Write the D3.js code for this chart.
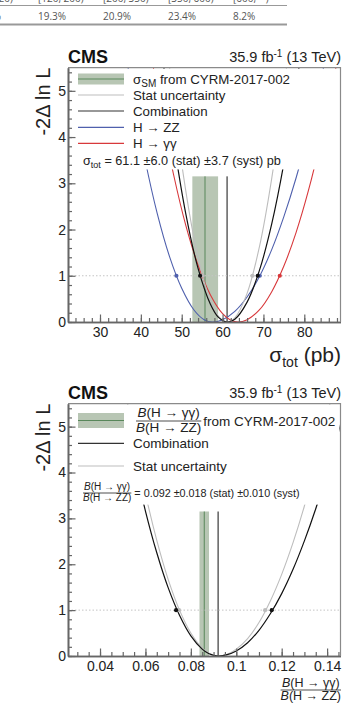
<!DOCTYPE html>
<html>
<head>
<meta charset="utf-8">
<script src="https://cdn.jsdelivr.net/npm/d3@7"></script>
<style>
  body { margin: 0; background: #fff; }
  svg { display: block; font-family: "Liberation Sans", Arial, sans-serif; }
</style>
</head>
<body>
<div id="chart"></div>
<script>
// strip of the table that sits above the figure on the page
const tableHeaders = ["[60, 120)", "[120, 200)", "[200, 350)", "[350, 600)", "[600, ∞)"]
const tableValues = ["14.7%", "19.3%", "20.9%", "23.4%", "8.2%"]

// shared y ticks (-2 delta ln L)
const yMajorTicks = [0, 1, 2, 3, 4, 5]
const yMinorTicks = d3.range(0, 5.5, 0.2)

// ---- top panel: sigma_tot (pb) ----
const sigmaXTicks = [30, 40, 50, 60, 70, 80]
const sigmaXMinor = d3.range(24, 89, 2)

const sigmaCombX = [45, 48, 51, 54, 57, 59, 61.1, 63, 66, 69, 72, 75, 78, 80]
const sigmaCombY = [5.95, 3.94, 2.34, 1.16, 0.39, 0.10, 0, 0.06, 0.43, 1.11, 2.11, 3.43, 5.08, 6.35]
const sigmaStatX = [47, 50, 53, 56, 59, 61.1, 63, 66, 69, 72, 75, 77]
const sigmaStatY = [5.52, 3.42, 1.82, 0.72, 0.12, 0, 0.09, 0.62, 1.62, 3.09, 5.03, 6.58]
const sigmaZZX = [35, 38, 41, 44, 47, 50, 53, 55.5, 57.5, 60, 63, 66, 69, 72, 75, 78, 81, 84, 87]
const sigmaZZY = [6.54, 4.91, 3.52, 2.35, 1.42, 0.73, 0.26, 0.05, 0, 0.05, 0.23, 0.54, 0.98, 1.56, 2.28, 3.12, 4.10, 5.22, 6.47]
const sigmaGGX = [42, 45, 48, 51, 54, 57, 60, 62, 63.8, 66, 69, 72, 75, 78, 81, 84, 87, 89]
const sigmaGGY = [6.07, 4.51, 3.19, 2.09, 1.23, 0.59, 0.18, 0.04, 0, 0.05, 0.26, 0.65, 1.21, 1.94, 2.84, 3.92, 5.17, 6.10]

// where each curve crosses -2 delta ln L = 1
const sigmaCombCross = [54.5, 68.6]
const sigmaStatCross = [55.1, 67.3]
const sigmaZZCross = [48.7, 69.1]
const sigmaGGCross = [55.0, 74.0]

// SM prediction band and best fit
const sigmaSM = [52.6, 55.7, 58.9]
const sigmaBest = 61.1

// ---- bottom panel: B(H->gg)/B(H->ZZ) ----
const ratioXTicks = [0.04, 0.06, 0.08, 0.1, 0.12, 0.14]
const ratioXMinor = d3.range(0.03, 0.1455, 0.005)

const ratioCombX = [0.050, 0.055, 0.060, 0.065, 0.070, 0.075, 0.080, 0.085, 0.088, 0.092, 0.096, 0.100, 0.105, 0.110, 0.115, 0.120, 0.125, 0.130, 0.135, 0.140, 0.145, 0.150]
const ratioCombY = [5.44, 4.23, 3.16, 2.25, 1.49, 0.89, 0.44, 0.15, 0.05, 0, 0.03, 0.11, 0.29, 0.56, 0.92, 1.36, 1.89, 2.51, 3.21, 4.00, 4.88, 5.84]
const ratioStatX = [0.050, 0.055, 0.060, 0.065, 0.070, 0.075, 0.080, 0.085, 0.088, 0.092, 0.096, 0.100, 0.105, 0.110, 0.115, 0.120, 0.125, 0.130, 0.135, 0.140, 0.145]
const ratioStatY = [6.10, 4.74, 3.54, 2.52, 1.67, 1.00, 0.50, 0.17, 0.06, 0, 0.04, 0.15, 0.38, 0.73, 1.20, 1.78, 2.47, 3.27, 4.19, 5.22, 6.37]

const ratioCombCross = [0.0735, 0.1156]
const ratioStatCross = [0.0748, 0.1127]

const ratioSM = [0.0838, 0.0859, 0.0880]
const ratioBest = 0.092

// vertical lines / band stop under the legend
const bandTop = 3.15
const legendBottom = 3.3

const colors = {
  comb: "#111",
  stat: "#bdbdbd",
  zz: "#4f60ad",
  gg: "#d8383b",
  band: "#b8c6b4",
  bandLine: "#58875a",
  axis: "#666",
  text: "#222"
}

const W = 344, H = 703
const plotLeft = 68, plotRight = 340.5

const svg = d3.select("#chart").append("svg")
  .attr("width", W)
  .attr("height", H)

//the cut-off table on top
const table = svg.append("g")
table.selectAll("text.hdr")
  .data(tableHeaders)
  .join("text")
  .attr("class", "hdr")
  .attr("x", (d, i) => -27 + i * 65)
  .attr("y", 1.5)
  .attr("font-family", "'Open Sans', sans-serif")
  .attr("font-size", 10)
  .attr("fill", "#555")
  .text(d => d)
table.append("line")
  .attr("x1", 0).attr("x2", 287).attr("y1", 5.5).attr("y2", 5.5)
  .attr("stroke", "#999").attr("stroke-width", 1)
table.selectAll("text.val")
  .data(tableValues)
  .join("text")
  .attr("class", "val")
  .attr("x", (d, i) => -27 + i * 65)
  .attr("y", 19.5)
  .attr("font-family", "'Open Sans', sans-serif")
  .attr("font-size", 10)
  .attr("fill", "#555")
  .text(d => d)
table.append("line")
  .attr("x1", 0).attr("x2", 287).attr("y1", 24.5).attr("y2", 24.5)
  .attr("stroke", "#999").attr("stroke-width", 2)

// draws a stacked fraction; anchor "start" or "end" at x, returns its width
function fraction(g, x, yBar, size, num, den, anchor) {
  const fg = g.append("g").attr("font-size", size).attr("fill", colors.text)
  const addTerm = (parts, y) => {
    const t = fg.append("text").attr("y", y).attr("text-anchor", "middle")
    t.append("tspan").attr("font-style", "italic").text("B")
    t.append("tspan").text(parts)
    return t
  }
  const n = addTerm(num, yBar - size * 0.28)
  const d = addTerm(den, yBar + size * 0.8)
  const w = Math.max(n.node().getComputedTextLength(), d.node().getComputedTextLength())
  const cx = anchor === "end" ? x - w / 2 : x + w / 2
  n.attr("x", cx)
  d.attr("x", cx)
  fg.append("line")
    .attr("x1", cx - w / 2).attr("x2", cx + w / 2)
    .attr("y1", yBar).attr("y2", yBar)
    .attr("stroke", colors.text).attr("stroke-width", 0.8)
  return w
}

function drawPanel(p) {
  const g = svg.append("g")
  const x = d3.scaleLinear().domain(p.xDomain).range([plotLeft, plotRight])
  const y = d3.scaleLinear().domain([0, 5.5]).range([p.bottom, p.top])

  svg.append("clipPath").attr("id", p.id + "-clip")
    .append("rect")
    .attr("x", plotLeft).attr("y", p.top)
    .attr("width", plotRight - plotLeft).attr("height", p.bottom - p.top)
  const plot = g.append("g").attr("clip-path", `url(#${p.id}-clip)`)

  //reference band with its central value
  plot.append("rect")
    .attr("x", x(p.sm[0]))
    .attr("width", x(p.sm[2]) - x(p.sm[0]))
    .attr("y", y(bandTop))
    .attr("height", y(0) - y(bandTop))
    .attr("fill", colors.band)
  plot.append("line")
    .attr("x1", x(p.sm[1])).attr("x2", x(p.sm[1]))
    .attr("y1", y(0)).attr("y2", y(bandTop))
    .attr("stroke", colors.bandLine).attr("stroke-width", 1)
  plot.append("line")
    .attr("x1", x(p.best)).attr("x2", x(p.best))
    .attr("y1", y(0)).attr("y2", y(bandTop))
    .attr("stroke", colors.comb).attr("stroke-width", 1)

  //dotted line at 1
  plot.append("line")
    .attr("x1", plotLeft).attr("x2", plotRight)
    .attr("y1", y(1)).attr("y2", y(1))
    .attr("stroke", "#c4c4c4").attr("stroke-width", 1)
    .attr("stroke-dasharray", "1.5,2")

  const line = d3.line()
    .x(d => x(d[0]))
    .y(d => y(d[1]))
    .curve(d3.curveCatmullRom.alpha(0.5))

  p.curves.forEach(c => {
    plot.append("path")
      .datum(d3.zip(c.xs, c.ys))
      .attr("d", line)
      .attr("fill", "none")
      .attr("stroke", c.color)
      .attr("stroke-width", c.width)
  })
  p.curves.forEach(c => {
    plot.selectAll(null)
      .data(c.cross)
      .join("circle")
      .attr("cx", d => x(d))
      .attr("cy", y(1))
      .attr("r", 2.1)
      .attr("fill", c.color)
  })

  //legend sits on a white box that hides the curve tops
  g.append("rect")
    .attr("x", plotLeft + 1).attr("y", p.top + 1)
    .attr("width", plotRight - plotLeft - 2)
    .attr("height", y(legendBottom) - p.top - 1)
    .attr("fill", "#fff")

  //axes, ticks pointing inward
  const styleAxis = (sel) => {
    sel.select(".domain").attr("stroke", colors.axis).attr("stroke-width", 1.6)
    sel.selectAll(".tick line").attr("stroke", colors.axis).attr("stroke-width", 1.2)
    sel.selectAll("text").attr("font-size", 14).attr("fill", colors.text)
      .attr("font-family", "'Liberation Sans', Arial, sans-serif")
  }
  g.append("g")
    .attr("transform", `translate(0,${p.bottom})`)
    .call(d3.axisBottom(x).tickValues(p.xMinor).tickSize(-4).tickSizeOuter(0).tickFormat(""))
    .call(styleAxis)
  g.append("g")
    .attr("transform", `translate(0,${p.bottom})`)
    .call(d3.axisBottom(x).tickValues(p.xTicks).tickSize(-7.5).tickSizeOuter(0).tickPadding(p.xPad).tickFormat(d => String(d)))
    .call(styleAxis)
  g.append("g")
    .attr("transform", `translate(${plotLeft},0)`)
    .call(d3.axisLeft(y).tickValues(yMinorTicks).tickSize(-4).tickSizeOuter(0).tickFormat(""))
    .call(styleAxis)
  g.append("g")
    .attr("transform", `translate(${plotLeft},0)`)
    .call(d3.axisLeft(y).tickValues(yMajorTicks).tickSize(-7.5).tickSizeOuter(0).tickPadding(2).tickFormat(d3.format("d")))
    .call(styleAxis)

  //rest of the frame
  g.append("path")
    .attr("d", `M${plotLeft},${p.top}H${plotRight}V${p.bottom}`)
    .attr("fill", "none").attr("stroke", "#8a8a8a").attr("stroke-width", 1.2)

  //headers
  g.append("text")
    .attr("x", plotLeft).attr("y", p.top - 5)
    .attr("font-size", 18).attr("font-weight", "bold").attr("fill", "#111")
    .text("CMS")
  const lumi = g.append("text")
    .attr("x", 341).attr("y", p.top - 5.5)
    .attr("text-anchor", "end").attr("font-size", 14.5).attr("fill", colors.text)
  lumi.append("tspan").text("35.9 fb")
  lumi.append("tspan").attr("dy", -5).attr("font-size", 10).text("-1")
  lumi.append("tspan").attr("dy", 5).text(" (13 TeV)")

  g.append("text")
    .attr("transform", `translate(50,${p.top}) rotate(-90)`)
    .attr("text-anchor", "end")
    .attr("font-size", 20).attr("fill", colors.text)
    .text("-2Δ ln L")

  return { g, x, y }
}

// legend helpers
function legendSwatchBand(g, yc, h) {
  g.append("rect").attr("x", 78).attr("y", yc - h / 2).attr("width", 46).attr("height", h)
    .attr("fill", colors.band)
  g.append("line").attr("x1", 78).attr("x2", 124).attr("y1", yc).attr("y2", yc)
    .attr("stroke", colors.bandLine).attr("stroke-width", 1.2)
}
function legendSwatchLine(g, yc, color) {
  g.append("line").attr("x1", 78).attr("x2", 124).attr("y1", yc).attr("y2", yc)
    .attr("stroke", color).attr("stroke-width", 1.2)
}

// ---------- top panel ----------
const sigmaPanel = drawPanel({
  id: "sigma",
  top: 67.7,
  bottom: 322,
  xDomain: [22.17, 88.86],
  xTicks: sigmaXTicks,
  xMinor: sigmaXMinor,
  xPad: 5,
  sm: sigmaSM,
  best: sigmaBest,
  curves: [
    { xs: sigmaZZX, ys: sigmaZZY, cross: sigmaZZCross, color: colors.zz, width: 1.1 },
    { xs: sigmaGGX, ys: sigmaGGY, cross: sigmaGGCross, color: colors.gg, width: 1.1 },
    { xs: sigmaStatX, ys: sigmaStatY, cross: sigmaStatCross, color: colors.stat, width: 1.1 },
    { xs: sigmaCombX, ys: sigmaCombY, cross: sigmaCombCross, color: colors.comb, width: 1.2 }
  ]
})

const topLeg = sigmaPanel.g.append("g").attr("font-size", 13.3).attr("fill", colors.text)
legendSwatchBand(topLeg, 79, 11)
const smLabel = topLeg.append("text").attr("x", 133).attr("y", 83.5)
smLabel.append("tspan").text("σ")
smLabel.append("tspan").attr("dy", 3.5).attr("font-size", 10).text("SM")
smLabel.append("tspan").attr("dy", -3.5).text(" from CYRM-2017-002")
legendSwatchLine(topLeg, 95, colors.stat)
topLeg.append("text").attr("x", 133).attr("y", 99.5).text("Stat uncertainty")
legendSwatchLine(topLeg, 111, "#333")
topLeg.append("text").attr("x", 133).attr("y", 115.5).text("Combination")
legendSwatchLine(topLeg, 127.3, colors.zz)
topLeg.append("text").attr("x", 133).attr("y", 132).text("H → ZZ")
legendSwatchLine(topLeg, 143.3, colors.gg)
topLeg.append("text").attr("x", 133).attr("y", 148).text("H → γγ")
const sigmaRes = topLeg.append("text").attr("x", 83).attr("y", 164.5).attr("font-size", 12.7)
sigmaRes.append("tspan").text("σ")
sigmaRes.append("tspan").attr("dy", 3).attr("font-size", 9).text("tot")
sigmaRes.append("tspan").attr("dy", -3).text(" = 61.1  ±6.0 (stat) ±3.7 (syst)  pb")

const sigmaTitle = sigmaPanel.g.append("text")
  .attr("x", 341).attr("y", 362)
  .attr("text-anchor", "end").attr("font-size", 21).attr("fill", colors.text)
sigmaTitle.append("tspan").text("σ")
sigmaTitle.append("tspan").attr("dy", 5).attr("font-size", 14).text("tot")
sigmaTitle.append("tspan").attr("dy", -5).text("  (pb)")

// ---------- bottom panel ----------
const ratioPanel = drawPanel({
  id: "ratio",
  top: 403.7,
  bottom: 656,
  xDomain: [0.0259, 0.1459],
  xTicks: ratioXTicks,
  xMinor: ratioXMinor,
  xPad: 5.5,
  sm: ratioSM,
  best: ratioBest,
  curves: [
    { xs: ratioStatX, ys: ratioStatY, cross: ratioStatCross, color: colors.stat, width: 1.1 },
    { xs: ratioCombX, ys: ratioCombY, cross: ratioCombCross, color: colors.comb, width: 1.2 }
  ]
})

const botLeg = ratioPanel.g.append("g").attr("font-size", 13.5).attr("fill", colors.text)
legendSwatchBand(botLeg, 420.5, 15)
const fw = fraction(botLeg, 136, 421, 13.5, "(H → γγ)", "(H → ZZ)", "start")
botLeg.append("text").attr("x", 136 + fw + 2).attr("y", 425.5).text("from CYRM-2017-002")
legendSwatchLine(botLeg, 443.3, "#333")
botLeg.append("text").attr("x", 133).attr("y", 448).text("Combination")
legendSwatchLine(botLeg, 466, colors.stat)
botLeg.append("text").attr("x", 133).attr("y", 471).text("Stat uncertainty")
const fw2 = fraction(botLeg, 83, 493, 10, "(H → γγ)", "(H → ZZ)", "start")
botLeg.append("text").attr("x", 83 + fw2 + 3).attr("y", 497).attr("font-size", 10.8)
  .text("= 0.092  ±0.018 (stat) ±0.010 (syst)")

fraction(ratioPanel.g, 341, 690, 12.5, "(H → γγ)", "(H → ZZ)", "end")
</script>
</body>
</html>
